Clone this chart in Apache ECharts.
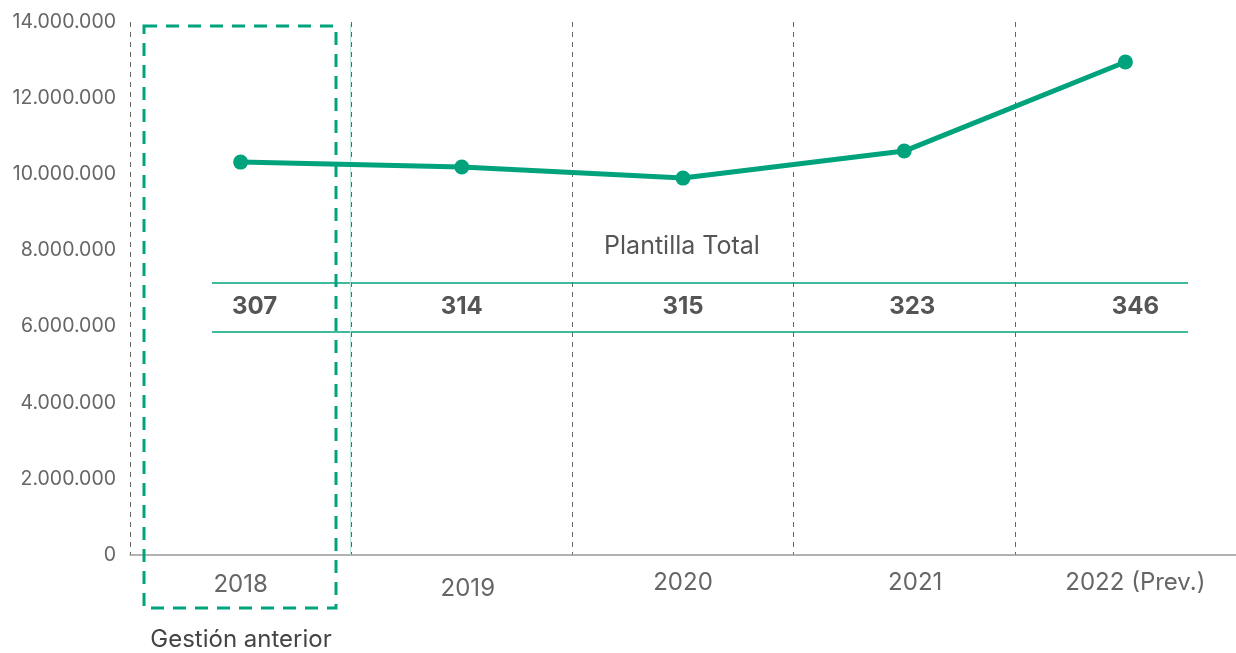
<!DOCTYPE html>
<html>
<head>
<meta charset="utf-8">
<script src="https://cdn.jsdelivr.net/npm/echarts@6/dist/echarts.min.js"></script>
<style>
  html, body { margin: 0; padding: 0; background: #fff; }
  #main { width: 1236px; height: 653px; }
</style>
</head>
<body>
<div id="main"></div>
<script>
// datos
var years = ['2018', '2019', '2020', '2021', '2022 (Prev.)']
var importe = [10320000, 10190000, 9900000, 10610000, 12950000]
var plantilla = [307, 314, 315, 323, 346]
var yTicks = [0, 2000000, 4000000, 6000000, 8000000, 10000000, 12000000, 14000000]

var verde = '#00a37c'
var font = 'Inter, "Noto Sans", sans-serif'
// pequeños desplazamientos de las etiquetas del eje x, como en el original
var labelPad = [[2, 0, 0, 0], [6, 0, 0, 12], [0, 0, 0, 0], [0, 0, 0, 22], [0, 0, 0, 20]]

var chart = echarts.init(document.getElementById('main'))

var option = {
  animation: false,
  grid: {
    left: 130,
    right: -3,
    top: 22,
    bottom: 98
  },
  xAxis: {
    type: 'category',
    data: years.map(function (y, i) {
      return { value: y, textStyle: { padding: labelPad[i] } }
    }),
    boundaryGap: true,
    axisLine: { lineStyle: { color: '#999', width: 1.5 } },
    axisTick: { show: false },
    axisLabel: {
      color: '#666',
      fontSize: 24,
      fontFamily: font,
      margin: 16
    },
    splitLine: {
      show: true,
      lineStyle: { color: '#666', type: [5, 5], width: 1 }
    }
  },
  yAxis: {
    type: 'value',
    min: yTicks[0],
    max: yTicks[yTicks.length - 1],
    interval: 2000000,
    axisLine: { show: false },
    axisTick: { show: false },
    splitLine: { show: false },
    axisLabel: {
      color: '#666',
      fontSize: 19.5,
      fontFamily: font,
      margin: 14,
      formatter: function (v) {
        return String(v).replace(/\B(?=(\d{3})+(?!\d))/g, '.')
      }
    }
  },
  series: [
    {
      type: 'line',
      data: importe,
      symbol: 'circle',
      symbolSize: 15,
      itemStyle: { color: verde },
      lineStyle: { color: verde, width: 5 }
    }
  ]
}
chart.setOption(option)

// adornos: recuadro de gestión anterior y tabla de plantilla
var graphics = [
  {
    type: 'rect',
    shape: { x: 144, y: 26, width: 192, height: 582 },
    style: { fill: 'none', stroke: verde, lineWidth: 3, lineDash: [13, 9] },
    z: 10
  },
  {
    type: 'line',
    shape: { x1: 350.5, y1: 24, x2: 350.5, y2: 555 },
    style: { stroke: '#bde8dd', lineWidth: 1 },
    z: 1
  },
  {
    type: 'text',
    style: {
      text: 'Gestión anterior', x: 241, y: 640, align: 'center', verticalAlign: 'middle',
      fill: '#444', font: '24px ' + font
    }
  },
  {
    type: 'text',
    style: {
      text: 'Plantilla Total', x: 682, y: 246, align: 'center', verticalAlign: 'middle',
      fill: '#555', font: '25px ' + font
    }
  },
  {
    type: 'line',
    shape: { x1: 212, y1: 283, x2: 1188, y2: 283 },
    style: { stroke: verde, lineWidth: 1.5 }
  },
  {
    type: 'line',
    shape: { x1: 212, y1: 332, x2: 1188, y2: 332 },
    style: { stroke: verde, lineWidth: 1.5 }
  }
]
plantilla.forEach(function (n, i) {
  var px = chart.convertToPixel({ xAxisIndex: 0 }, i)
  graphics.push({
    type: 'text',
    style: {
      text: String(n), x: px + (i === 0 ? 14 : i === 4 ? 10 : i === 3 ? 8 : 0), y: 307,
      align: 'center', verticalAlign: 'middle',
      fill: '#555', font: 'bold 24px ' + font
    }
  })
})
chart.setOption({ graphic: graphics })
</script>
</body>
</html>
